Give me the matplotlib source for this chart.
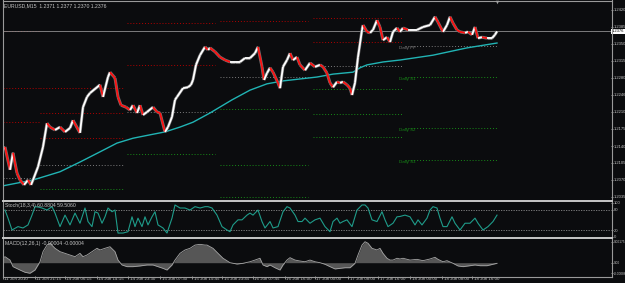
import matplotlib
matplotlib.use('Agg')
import matplotlib.pyplot as plt
import matplotlib.transforms as mtransforms
from matplotlib.collections import LineCollection
import numpy as np

# ---------------- data (bar index = M15 bar number from chart start) ----------------
price_bar = [0,2,7,10,14,17,21,25,28,30,35,40,44,47,52,57,62,67,70,77,80,84,87,97,100,105,107,112,115,118,
             123,127,130,134,137,140,144,150,154,157,162,165,169,172,174,180,185,188,190,193,197,202,205,207,212,
             217,222,227,232,237,242,247,252,255,259,261,264,267,270,275,277,280,284,287,290,294,297,302,307,312,
             317,320,324,327,330,334,337,340,344,347,349,352,355,359,360,364,367,370,374,377,380,384,387,390,394,
             397,400,405,414,420,427,432,435,440,444,447,450,454,457,462,465,469,472,475,479,484,489,492,494]
price_close = [1.2132,1.2138,1.2091,1.2126,1.2084,1.2070,1.2060,1.2070,1.2060,1.2070,1.2097,1.2138,1.2187,1.2179,
               1.2173,1.2179,1.2169,1.2177,1.2193,1.2167,1.2220,1.2241,1.2249,1.2266,1.2241,1.2282,1.2292,1.2280,
               1.2241,1.2224,1.2220,1.2214,1.2224,1.2208,1.2224,1.2204,1.2210,1.2220,1.2210,1.2208,1.2169,1.2179,
               1.2200,1.2235,1.2241,1.2259,1.2261,1.2266,1.2276,1.2307,1.2327,1.2344,1.2338,1.2342,1.2334,1.2323,
               1.2317,1.2313,1.2313,1.2313,1.2321,1.2321,1.2331,1.2344,1.2303,1.2276,1.2290,1.2301,1.2292,1.2270,
               1.2259,1.2303,1.2317,1.2331,1.2317,1.2323,1.2307,1.2296,1.2311,1.2303,1.2307,1.2303,1.2290,1.2270,
               1.2261,1.2272,1.2270,1.2272,1.2266,1.2259,1.2245,1.2270,1.2323,1.2379,1.2389,1.2375,1.2373,1.2379,
               1.2399,1.2385,1.2358,1.2364,1.2354,1.2375,1.2383,1.2375,1.2383,1.2379,1.2379,1.2385,1.2389,1.2406,
               1.2395,1.2375,1.2389,1.2406,1.2393,1.2379,1.2375,1.2373,1.2375,1.2369,1.2385,1.2362,1.2364,1.2362,
               1.2362,1.2369,1.2376]

ma_bar = [0,30,57,77,97,114,130,147,162,177,190,207,229,247,264,280,297,314,330,350,357,364,380,397,430,464,494]
ma_val = [1.2058,1.2070,1.2087,1.2107,1.2128,1.2146,1.2156,1.2163,1.2169,1.2179,1.2189,1.2208,1.2235,1.2255,
          1.2268,1.2274,1.2278,1.2282,1.2288,1.2292,1.2301,1.2307,1.2313,1.2317,1.2327,1.2342,1.2352]

# daily pivot segments (start bar, end bar) and levels (None = off chart)
day_start = [0, 37, 124, 217, 310, 402]
day_end = [37, 121, 212, 305, 400, 494]
piv_R3 = [1.2377, 1.2259, None, None, None, None]
piv_R2 = [1.2259, 1.2208, 1.2393, None, 1.2404, None]
piv_R1 = [1.2189, 1.2156, 1.2307, 1.2397, 1.2354, None]
piv_PP = [1.2074, 1.2101, 1.2210, 1.2282, 1.2305, 1.2346]
piv_S1 = [None, 1.2051, 1.2124, 1.2216, 1.2257, 1.2282]
piv_S2 = [None, None, None, 1.2101, 1.2206, 1.2177]
piv_S3 = [None, None, None, 1.2035, 1.2159, 1.2111]
pivot_names = ["Daily PP", "Daily S1", "Daily S2", "Daily S3"]

stoch_bar = [2,5,9,15,20,25,29,32,35,39,44,49,52,57,62,67,72,77,82,85,89,92,95,99,102,105,109,112,115,120,
             125,129,132,135,139,142,145,149,152,155,160,164,169,172,177,182,187,192,197,202,205,209,214,219,224,
             227,230,235,239,244,247,250,255,259,262,267,270,275,280,284,287,292,295,299,302,307,312,317,322,327,
             330,334,337,340,344,349,354,359,362,365,369,374,379,382,385,390,394,397,402,407,412,415,419,424,427,
             430,434,437,440,444,449,452,457,462,467,472,475,480,485,490,494]
stoch_val = [79,55,20,30,26,35,64,89,88,85,79,89,70,30,64,35,70,40,85,45,30,74,70,40,59,85,74,79,11,11,
             15,59,30,55,30,59,35,59,74,35,26,11,55,94,85,85,79,89,85,89,89,85,64,30,20,15,35,50,50,64,
             70,64,79,45,26,45,26,30,74,89,85,64,45,45,55,40,50,55,30,15,45,55,40,45,50,30,79,94,94,85,
             50,45,74,50,30,40,59,60,64,59,35,50,35,55,79,89,85,55,30,30,59,40,20,40,40,55,40,20,30,45,64]

macd_bar = [0,2,7,10,17,22,27,32,37,40,44,47,52,57,62,67,72,77,80,84,89,94,97,102,107,112,115,119,124,130,
            137,144,150,155,160,164,169,172,177,182,187,192,197,202,204,210,215,220,227,234,240,247,252,257,260,
            264,267,272,277,280,284,287,292,297,302,307,312,317,322,327,332,337,342,347,352,355,359,362,365,369,
            374,377,380,384,387,390,394,397,400,407,414,420,427,432,435,440,444,450,455,460,467,472,477,484,490,494]
macd_val = [0.00037,0.00050,0.00022,-0.00033,-0.00061,-0.00080,-0.00088,-0.00061,0.00008,0.00092,
            0.00147,0.00162,0.00120,0.00092,0.00078,0.00064,0.00050,0.00078,0.00050,0.00064,
            0.00092,0.00120,0.00106,0.00120,0.00133,0.00092,0.00022,-0.00019,-0.00033,-0.00033,
            -0.00027,-0.00019,-0.00019,-0.00033,-0.00047,-0.00061,-0.00019,0.00022,0.00078,0.00106,
            0.00120,0.00147,0.00153,0.00147,0.00147,0.00120,0.00078,0.00037,0.00000,-0.00011,
            -0.00005,0.00008,0.00022,0.00037,-0.00019,-0.00033,-0.00019,-0.00042,-0.00061,-0.00019,
            0.00022,0.00042,0.00022,0.00014,0.00008,0.00022,0.00008,0.00000,-0.00013,-0.00033,
            -0.00052,-0.00047,-0.00042,-0.00042,-0.00005,0.00064,0.00147,0.00175,0.00162,0.00120,
            0.00106,0.00120,0.00078,0.00037,0.00022,0.00022,0.00037,0.00031,0.00037,0.00022,
            0.00028,0.00017,0.00031,0.00045,0.00028,0.00008,0.00017,-0.00005,-0.00027,-0.00033,
            -0.00025,-0.00019,-0.00025,-0.00025,-0.00013,-0.00005]

time_bars = [0, 32, 62, 94, 125, 157, 189, 219, 250, 282, 312, 345, 375, 407, 439, 469]
time_labels = ["11 Jun 2010", "11 Jun 21:15", "14 Jun 06:15", "14 Jun 14:15", "14 Jun 23:30",
               "15 Jun 07:30", "15 Jun 15:45", "15 Jun 23:45", "16 Jun 07:45", "16 Jun 16:00",
               "17 Jun 00:00", "17 Jun 08:00", "17 Jun 16:00", "18 Jun 00:00", "18 Jun 08:00",
               "18 Jun 16:00"]
price_ticks = [1.2420, 1.2385, 1.2350, 1.2315, 1.2280, 1.2246, 1.2210, 1.2175, 1.2140, 1.2105, 1.2070, 1.2035]
price_tick_labels = ["1.2420", "1.2385", "1.2350", "1.2315", "1.2280", "1.2246", "1.2210", "1.2175",
                     "1.2140", "1.2105", "1.2070", "1.2035"]
bid_price = 1.2376
stoch_ticks = [100, 80, 20, 0]
stoch_levels = [80, 20]
macd_ticks = [0.00175, 0.0, -0.00088]
macd_tick_labels = ["0.00175", "0.00", "-0.00088"]
title_text = "EURUSD,M15  1.2371 1.2377 1.2370 1.2376"
stoch_text = "Stoch(18,3,4) 60.8804 59.5060"
macd_text = "MACD(12,26,1) -0.00004 -0.00004"

# ---------------- style ----------------
BG = '#0b0c0e'
TXT = '#c4c4c4'
FONT = ['Liberation Sans Narrow', 'Liberation Sans', 'DejaVu Sans']
FS = 3.7       # captions
FS_T = 3.2     # time labels / pivot labels
FS_AX = 3.0    # price axis labels
FS_M = 2.3     # macd axis labels
plt.rcParams['font.family'] = FONT

W, H = 625, 283
fig = plt.figure(figsize=(W / 100, H / 100), dpi=100, facecolor=BG)


def rect(x0, y0, x1, y1):
    return [x0 / W, 1 - y1 / H, (x1 - x0) / W, (y1 - y0) / H]


PX = 0.0035 / 17.0          # price per pixel on the main window
NBARS = 608


def style_axis(ax, fs):
    ax.set_facecolor(BG)
    for s in ax.spines.values():
        s.set_visible(False)
    ax.set_xlim(0, NBARS)
    ax.yaxis.tick_right()
    ax.tick_params(axis='y', colors=TXT, labelsize=fs, length=1.2, width=0.5, pad=0.6, direction='out')
    ax.tick_params(axis='x', bottom=False, labelbottom=False)


# main window
ax = fig.add_axes(rect(3, 2, 611, 200))
style_axis(ax, FS_AX)
ax.set_ylim(1.2420 - 190 * PX, 1.2420 + 8 * PX)
ax.set_yticks(price_ticks)
ax.set_yticklabels(price_tick_labels)

red = '#b00000'
green = '#178a17'
grey = '#7c7c7c'
dot = (0, (1, 2))
for lev_list, col in [(piv_R3, red), (piv_R2, red), (piv_R1, red), (piv_PP, grey),
                      (piv_S1, green), (piv_S2, green), (piv_S3, green)]:
    for d, lev in enumerate(lev_list):
        if lev is not None:
            ax.hlines(lev, day_start[d], day_end[d], colors=col, linestyles=dot, lw=0.7, zorder=1)

ax.axhline(bid_price, color='#8e8e8e', lw=0.6, zorder=1)
ax.plot(ma_bar, ma_val, color='#21b4b4', lw=1.0, zorder=3)

pts = np.column_stack([price_bar, price_close])
segs = np.stack([pts[:-1], pts[1:]], axis=1)
cols = ['#ffffff' if b >= a else '#ff1010' for a, b in zip(price_close[:-1], price_close[1:])]
ax.add_collection(LineCollection(segs, colors='#707070', linewidths=2.2, zorder=4, capstyle='butt'))
ax.add_collection(LineCollection(segs, colors=cols, linewidths=1.3, zorder=5, capstyle='butt'))

# pivot labels for the last day
last = len(day_start) - 1
for name, levs, col in zip(pivot_names, [piv_PP, piv_S1, piv_S2, piv_S3], [grey, green, green, green]):
    ax.text(day_start[last] - 6, levs[last] - 0.4 * PX, name, color=col, fontsize=FS_T,
            va='top', ha='left', zorder=6)

trans = mtransforms.blended_transform_factory(ax.transAxes, ax.transData)
ax.text(1.0015, bid_price, "1.2376", transform=trans, fontsize=FS_AX, color='black', va='center', ha='left',
        bbox=dict(boxstyle='square,pad=0.1', fc='white', ec='white', lw=0), zorder=10, clip_on=False)

# stochastic window
ax2 = fig.add_axes(rect(3, 202, 611, 237))
style_axis(ax2, FS_AX)
ax2.set_ylim(20 - 7 * 60 / 20.3, 80 + 7.7 * 60 / 20.3)
ax2.set_yticks(stoch_ticks)
ax2.set_yticklabels([str(v) for v in stoch_ticks])
for lv in stoch_levels:
    ax2.axhline(lv, color='#8a8a8a', lw=0.6, ls=(0, (1.5, 1.5)))
ax2.plot(stoch_bar, stoch_val, color='#1f9c8a', lw=0.8)

# MACD window
ax3 = fig.add_axes(rect(3, 239, 611, 276))
style_axis(ax3, FS_M)
k = 0.00175 / 21.0
ax3.set_ylim(-13.3 * k, 23.7 * k)
ax3.set_yticks(macd_ticks)
ax3.set_yticklabels(macd_tick_labels)
ax3.fill_between(macd_bar, 0, macd_val, color='#565656', lw=0)
ax3.plot(macd_bar, macd_val, color='#a6a6a6', lw=0.6)
ax3.set_xticks(time_bars)
ax3.tick_params(axis='x', bottom=True, length=2, width=0.5, colors=TXT, direction='out', labelbottom=False)
xt = ax3.get_xaxis_transform()
for b, lab in zip(time_bars, time_labels):
    ax3.text(b + 1.5, -0.09, lab, transform=xt, fontsize=FS_T, color=TXT, va='center', ha='left',
             clip_on=False)

# overlay: frame lines and window captions
ov = fig.add_axes([0, 0, 1, 1], zorder=20)
ov.set_xlim(0, W)
ov.set_ylim(H, 0)
ov.axis('off')
ov.patch.set_alpha(0)
fc = '#9a9a9a'
ov.plot([2.5, 2.5], [0, 276.5], color=fc, lw=0.8)
ov.plot([2.5, 611.5], [0.5, 0.5], color=fc, lw=0.8)
ov.plot([611.5, 611.5], [0, 276.5], color=fc, lw=0.8)
ov.plot([2.5, 611.5], [276.5, 276.5], color=fc, lw=0.8)
ov.plot([2.5, 611.5], [201, 201], color='#c8c8c8', lw=1.4)
ov.plot([2.5, 611.5], [238, 238], color='#c8c8c8', lw=1.4)
ov.plot([497], [2.2], marker='v', ms=2.5, color='#a0a0a0', mec='none')
ov.text(4, 5.5, title_text, fontsize=FS, color=TXT, va='center', ha='left')
ov.text(5, 206, stoch_text, fontsize=FS, color=TXT, va='center', ha='left')
ov.text(5, 243.5, macd_text, fontsize=FS, color=TXT, va='center', ha='left')

fig.savefig('out.png', dpi=100, facecolor=BG)
